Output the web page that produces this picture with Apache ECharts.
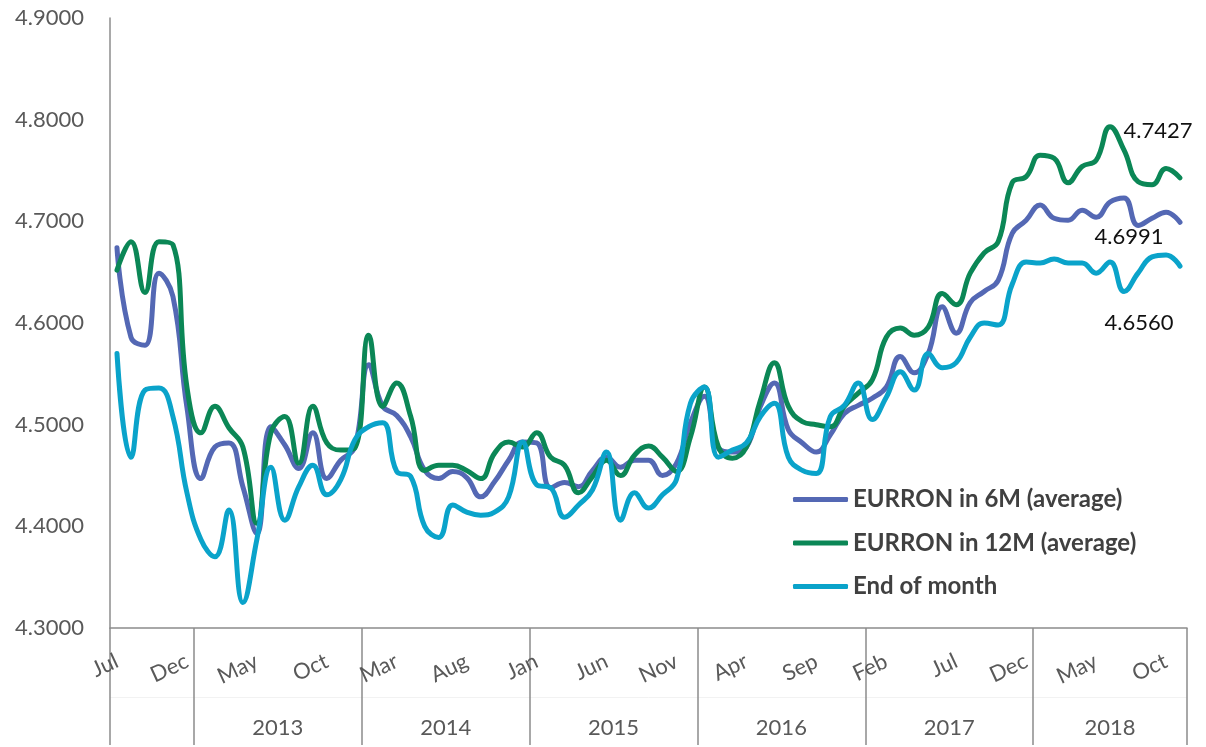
<!DOCTYPE html>
<html>
<head>
<meta charset="utf-8">
<script src="https://cdn.jsdelivr.net/npm/echarts@6/dist/echarts.min.js"></script>
<style>
  html, body { margin: 0; padding: 0; background: #fff; }
  #chart { width: 1206px; height: 747px; }
</style>
</head>
<body>
<div id="chart"></div>
<script>
// ---- Data (monthly, Jul 2012 .. Nov 2018) ----
const monthNames = ['Jan','Feb','Mar','Apr','May','Jun','Jul','Aug','Sep','Oct','Nov','Dec'];
const startYear = 2012, startMonth = 6, monthCount = 77;
const years = ['2013','2014','2015','2016','2017','2018'];

const eurron6M = [4.674,4.586,4.578,4.649,4.626,4.517,4.447,4.478,4.482,4.439,
  4.393,4.498,4.480,4.457,4.492,4.447,4.465,4.478,4.559,4.518,
  4.509,4.488,4.455,4.447,4.454,4.448,4.429,4.444,4.465,4.483,
  4.482,4.438,4.443,4.439,4.455,4.468,4.458,4.465,4.465,4.450,
  4.462,4.502,4.528,4.477,4.473,4.478,4.518,4.541,4.495,4.482,
  4.473,4.490,4.511,4.519,4.526,4.537,4.567,4.551,4.570,4.616,
  4.590,4.620,4.631,4.642,4.688,4.701,4.716,4.703,4.701,4.711,
  4.704,4.719,4.723,4.696,4.703,4.709,4.6991];

const eurron12M = [4.652,4.680,4.630,4.680,4.677,4.537,4.492,4.518,4.497,4.478,
  4.403,4.492,4.508,4.462,4.518,4.482,4.475,4.477,4.588,4.518,
  4.541,4.508,4.455,4.460,4.460,4.455,4.447,4.472,4.483,4.478,
  4.492,4.468,4.460,4.433,4.449,4.465,4.450,4.470,4.479,4.468,
  4.454,4.488,4.537,4.478,4.467,4.478,4.524,4.561,4.518,4.503,
  4.500,4.498,4.518,4.531,4.544,4.586,4.595,4.588,4.596,4.629,
  4.618,4.649,4.669,4.680,4.738,4.744,4.765,4.762,4.738,4.754,
  4.760,4.793,4.770,4.739,4.736,4.752,4.7427];

const endOfMonth = [4.570,4.468,4.534,4.536,4.508,4.433,4.387,4.370,4.416,4.325,
  4.387,4.458,4.406,4.439,4.460,4.431,4.446,4.485,4.498,4.502,
  4.454,4.449,4.400,4.389,4.421,4.414,4.411,4.414,4.429,4.483,
  4.441,4.438,4.409,4.421,4.436,4.473,4.406,4.433,4.418,4.431,
  4.446,4.521,4.537,4.468,4.475,4.482,4.508,4.521,4.468,4.455,
  4.452,4.508,4.519,4.541,4.505,4.527,4.552,4.534,4.570,4.556,
  4.561,4.586,4.600,4.598,4.638,4.660,4.659,4.663,4.659,4.659,
  4.649,4.660,4.631,4.649,4.665,4.667,4.6560];

const seriesNames = ['EURRON in 6M (average)', 'EURRON in 12M (average)', 'End of month'];
const yTicks = { min: 4.3, max: 4.9, interval: 0.1 };

// ---- Build categories ----
const categories = [];
for (let i = 0; i < monthCount; i++) {
  const m = (startMonth + i) % 12;
  const y = startYear + Math.floor((startMonth + i) / 12);
  categories.push(monthNames[m] + ' ' + y);
}
const catYear = categories.map(c => c.split(' ')[1]);

// year group label positions
const yearLabelAt = {};   // index -> {year, shift}
const yearStartIdx = [0];
years.forEach(yr => {
  const idxs = [];
  catYear.forEach((cy, i) => { if (cy === yr) idxs.push(i); });
  if (!idxs.length) return;
  yearStartIdx.push(idxs[0]);
  const n = idxs.length;
  if (n % 2 === 0) yearLabelAt[idxs[0] + n / 2] = { year: yr, shift: true };
  else yearLabelAt[idxs[0] + (n - 1) / 2] = { year: yr, shift: false };
});

const colors = ['#5468B4', '#0B8756', '#0AA3CA'];
const axisGray = '#8C8C8C';
const labelGray = '#595959';
const fontFam = 'Lato, "Open Sans", sans-serif';
const last = monthCount - 1;
const endOffsets = [[-51, 15], [-22, -47], [-41, 57]];

function makeSeries(name, values, k) {
  return {
    name: name,
    type: 'line',
    data: values,
    smooth: 0.45,
    showSymbol: false,
    symbol: 'none',
    lineStyle: { width: 5, color: colors[k], cap: 'round', join: 'round' },
    itemStyle: { color: colors[k] },
    emphasis: { disabled: true },
    z: 2 + k,
    markPoint: {
      silent: true,
      symbol: 'circle',
      symbolSize: 1,
      itemStyle: { color: 'rgba(0,0,0,0)' },
      label: {
        show: true,
        position: 'inside',
        offset: endOffsets[k],
        fontSize: 22,
        fontFamily: fontFam,
        color: '#111',
        formatter: p => Number(p.value).toFixed(4)
      },
      data: [{ coord: [categories[last], values[last]], value: values[last] }]
    }
  };
}

const chart = echarts.init(document.getElementById('chart'), null, { renderer: 'canvas' });
chart.setOption({
  animation: false,
  backgroundColor: '#fff',
  grid: { left: 110, right: 19, top: 18, bottom: 119, containLabel: false },
  legend: {
    orient: 'vertical',
    left: 793,
    top: 487,
    padding: 0,
    icon: 'roundRect',
    itemWidth: 55,
    itemHeight: 5,
    itemGap: 18.5,
    textStyle: { fontSize: 24, fontWeight: 'bold', color: '#404040', fontFamily: fontFam, lineHeight: 25 },
    data: seriesNames
  },
  xAxis: [
    {
      type: 'category',
      data: categories,
      boundaryGap: true,
      axisLine: { show: true, lineStyle: { color: axisGray, width: 1.5 } },
      axisTick: { show: false },
      axisLabel: {
        interval: 4,
        rotate: 25,
        margin: 32,
        fontSize: 22,
        fontFamily: fontFam,
        color: labelGray,
        formatter: v => v.split(' ')[0]
      },
      splitLine: { show: false }
    },
    {
      type: 'category',
      data: categories,
      position: 'bottom',
      boundaryGap: true,
      axisLine: { show: false },
      axisTick: {
        show: true,
        length: 117,
        interval: (idx) => yearStartIdx.indexOf(idx) >= 0,
        lineStyle: { color: axisGray, width: 1.5 }
      },
      axisLabel: {
        interval: (idx) => yearLabelAt[idx] !== undefined,
        margin: 89,
        fontSize: 22,
        fontFamily: fontFam,
        color: labelGray,
        formatter: (v, idx) => {
          const e = yearLabelAt[idx];
          if (!e) return '';
          return e.shift ? '{s|' + e.year + '}' : '{c|' + e.year + '}';
        },
        rich: {
          s: { fontSize: 22, fontFamily: fontFam, color: labelGray, padding: [0, 14, 0, 0] },
          c: { fontSize: 22, fontFamily: fontFam, color: labelGray }
        }
      },
      splitLine: { show: false }
    },
    {
      type: 'category',
      data: categories,
      position: 'bottom',
      offset: 69,
      axisLine: { show: true, lineStyle: { color: '#F2F2F2', width: 1 } },
      axisTick: { show: false },
      axisLabel: { show: false },
      splitLine: { show: false }
    }
  ],
  yAxis: {
    type: 'value',
    min: yTicks.min,
    max: yTicks.max,
    interval: yTicks.interval,
    axisLine: { show: true, lineStyle: { color: axisGray, width: 1.5 } },
    axisTick: { show: false },
    splitLine: { show: false },
    axisLabel: {
      margin: 26,
      fontSize: 22,
      fontFamily: fontFam,
      color: labelGray,
      formatter: v => v.toFixed(4)
    }
  },
  series: [
    makeSeries(seriesNames[0], eurron6M, 0),
    makeSeries(seriesNames[1], eurron12M, 1),
    makeSeries(seriesNames[2], endOfMonth, 2)
  ]
});
</script>
</body>
</html>
